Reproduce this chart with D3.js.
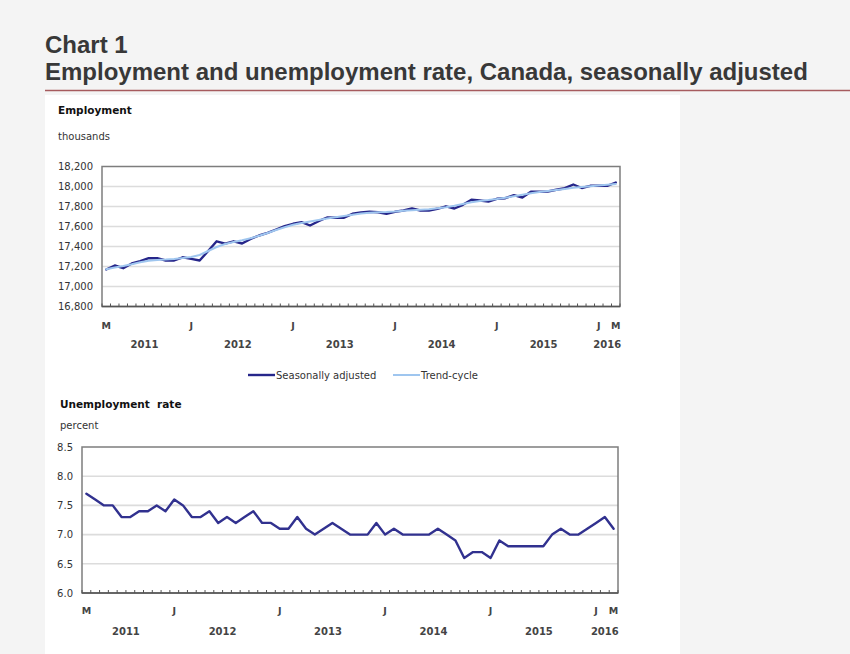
<!DOCTYPE html>
<html><head><meta charset="utf-8">
<script src="https://cdn.jsdelivr.net/npm/d3@7"></script>
<style>
html,body{margin:0;padding:0;background:#f4f4f4;}
svg{display:block;}
</style></head>
<body>
<svg id="c" width="850" height="654"></svg>
<script>
// ---- categories (months, March 2011 to March 2016) ----
const months = [
"2011-03","2011-04","2011-05","2011-06","2011-07","2011-08","2011-09","2011-10","2011-11","2011-12",
"2012-01","2012-02","2012-03","2012-04","2012-05","2012-06","2012-07","2012-08","2012-09","2012-10","2012-11","2012-12",
"2013-01","2013-02","2013-03","2013-04","2013-05","2013-06","2013-07","2013-08","2013-09","2013-10","2013-11","2013-12",
"2014-01","2014-02","2014-03","2014-04","2014-05","2014-06","2014-07","2014-08","2014-09","2014-10","2014-11","2014-12",
"2015-01","2015-02","2015-03","2015-04","2015-05","2015-06","2015-07","2015-08","2015-09","2015-10","2015-11","2015-12",
"2016-01","2016-02","2016-03"];

// ---- Employment, thousands ----
const employmentSA = [
17170,17210,17183,17230,17253,17283,17283,17260,17260,17292,
17276,17260,17355,17452,17428,17452,17430,17476,17510,17537,17570,17603,
17627,17643,17610,17653,17690,17687,17688,17727,17740,17747,17743,17727,
17747,17760,17780,17760,17760,17777,17802,17780,17817,17867,17860,17850,
17877,17883,17913,17890,17947,17947,17950,17967,17983,18020,17985,18007,
18007,18007,18040];
const employmentTrend = [
17172,17190,17205,17222,17242,17258,17266,17270,17276,17284,
17295,17315,17355,17395,17425,17445,17462,17482,17507,17535,17565,17593,
17617,17635,17650,17665,17680,17693,17705,17718,17730,17738,17742,17745,
17750,17757,17763,17768,17773,17782,17793,17808,17826,17843,17855,17864,
17875,17888,17902,17917,17932,17945,17955,17965,17976,17987,17995,18003,
18010,18018,18026];

// ---- Unemployment rate, percent ----
const unemploymentRate = [
7.7,7.6,7.5,7.5,7.3,7.3,7.4,7.4,7.5,7.4,
7.6,7.5,7.3,7.3,7.4,7.2,7.3,7.2,7.3,7.4,7.2,7.2,
7.1,7.1,7.3,7.1,7.0,7.1,7.2,7.1,7.0,7.0,7.0,7.2,
7.0,7.1,7.0,7.0,7.0,7.0,7.1,7.0,6.9,6.6,6.7,6.7,
6.6,6.9,6.8,6.8,6.8,6.8,6.8,7.0,7.1,7.0,7.0,7.1,
7.2,7.3,7.1];

// ---- tick labels ----
const empTicks = [16800,17000,17200,17400,17600,17800,18000,18200];
const rateTicks = [6.0,6.5,7.0,7.5,8.0,8.5];
const monthTickLabels = [
 {m:"2011-03",t:"M"},{m:"2012-01",t:"J"},{m:"2013-01",t:"J"},
 {m:"2014-01",t:"J"},{m:"2015-01",t:"J"},{m:"2016-01",t:"J"},{m:"2016-03",t:"M"}];
const yearLabels = ["2011","2012","2013","2014","2015","2016"];

const titleLine1 = "Chart 1";
const titleLine2 = "Employment and unemployment rate, Canada, seasonally adjusted";
const legendLabels = ["Seasonally adjusted","Trend-cycle"];

const COL_SA = "#26268a", COL_TREND = "#9fc6ef", COL_RATE = "#31318f";
const FONT = "'DejaVu Sans', Verdana, sans-serif";

const svg = d3.select("#c");

// background / panel
svg.append("rect").attr("x",0).attr("y",0).attr("width",850).attr("height",654).attr("fill","#f4f4f4");
svg.append("rect").attr("x",45).attr("y",95).attr("width",635).attr("height",559).attr("fill","#ffffff");

// titles
svg.append("text").attr("x",45).attr("y",53).text(titleLine1)
  .attr("font-family","'Liberation Sans', Arial, sans-serif").attr("font-weight","bold")
  .attr("font-size",24).attr("fill","#383838");
svg.append("text").attr("x",45).attr("y",80).text(titleLine2)
  .attr("font-family","'Liberation Sans', Arial, sans-serif").attr("font-weight","bold")
  .attr("font-size",24).attr("fill","#383838");
svg.append("line").attr("x1",45).attr("x2",850).attr("y1",90.5).attr("y2",90.5)
  .attr("stroke","#a65b5e").attr("stroke-width",1.5);

function panel(cfg){
  const g = svg.append("g");
  const x = d3.scaleBand().domain(months).range([cfg.left,cfg.right]).padding(0);
  const y = d3.scaleLinear().domain(cfg.domain).range([cfg.bottom,cfg.top]);
  const cx = m => x(m) + x.bandwidth()/2;

  // heading + unit
  g.append("text").attr("x",cfg.headX).attr("y",cfg.headY).text(cfg.heading)
    .attr("xml:space","preserve").style("white-space","pre")
    .attr("font-family",FONT).attr("font-weight","bold").attr("font-size",10.5).attr("fill","#111");
  g.append("text").attr("x",cfg.headX).attr("y",cfg.unitY).text(cfg.unit)
    .attr("font-family",FONT).attr("font-size",10).attr("fill","#333");

  // gridlines
  g.append("g").selectAll("line").data(cfg.ticks.slice(1,-1)).join("line")
    .attr("x1",cfg.left).attr("x2",cfg.right)
    .attr("y1",d=>y(d)).attr("y2",d=>y(d))
    .attr("stroke","#dcdcdc").attr("stroke-width",1.6);

  // y axis labels
  const ya = d3.axisLeft(y).tickValues(cfg.ticks).tickSize(0).tickPadding(9).tickFormat(cfg.fmt);
  const yg = g.append("g").attr("transform",`translate(${cfg.left},0)`).call(ya);
  yg.select(".domain").remove();
  yg.selectAll("text").attr("font-family",FONT).attr("font-size",10).attr("fill","#333");

  // frame
  g.append("rect").attr("x",cfg.left).attr("y",cfg.top)
    .attr("width",cfg.right-cfg.left).attr("height",cfg.bottom-cfg.top)
    .attr("fill","none").attr("stroke","#7d7d7d").attr("stroke-width",1.5);

  // bottom axis with small inward month ticks
  const bounds = months.map(m=>x(m)).concat([cfg.right]);
  g.append("g").selectAll("line").data(bounds).join("line")
    .attr("x1",d=>d).attr("x2",d=>d).attr("y1",cfg.bottom-3).attr("y2",cfg.bottom)
    .attr("stroke","#555").attr("stroke-width",1);
  g.append("line").attr("x1",cfg.left).attr("x2",cfg.right).attr("y1",cfg.bottom).attr("y2",cfg.bottom)
    .attr("stroke","#555").attr("stroke-width",1.6);

  // month labels
  g.append("g").selectAll("text").data(monthTickLabels).join("text")
    .attr("x",d=>cx(d.m)).attr("y",cfg.bottom+cfg.mOff).attr("text-anchor","middle")
    .text(d=>d.t).attr("font-family",FONT).attr("font-size",9.5).attr("font-weight","bold").attr("fill","#444");
  // year labels centred over their months
  g.append("g").selectAll("text").data(yearLabels).join("text")
    .attr("x",yr=>{
      const ms = months.filter(m=>m.startsWith(yr));
      return (x(ms[0]) + x(ms[ms.length-1]) + x.bandwidth())/2;
    })
    .attr("y",cfg.bottom+cfg.yOff).attr("text-anchor","middle")
    .text(d=>d).attr("font-family",FONT).attr("font-size",10).attr("font-weight","bold").attr("fill","#444");

  cfg.series.forEach(s=>{
    const line = d3.line().x((d,i)=>cx(months[i])).y(d=>y(d));
    g.append("path").datum(s.values).attr("d",line).attr("fill","none")
      .attr("stroke",s.color).attr("stroke-width",s.width)
      .attr("stroke-linejoin","round").attr("stroke-linecap","round");
  });
  return {x,y};
}

panel({left:102,right:620,top:166.5,bottom:306.5,domain:[16800,18200],ticks:empTicks,
  fmt:d3.format(","),heading:"Employment",unit:"thousands",headX:58,headY:114,unitY:140,
  mOff:22,yOff:41,
  series:[{values:employmentSA,color:COL_SA,width:2.4},{values:employmentTrend,color:COL_TREND,width:2}]});

panel({left:82,right:618,top:447,bottom:593,domain:[6.0,8.5],ticks:rateTicks,
  fmt:d3.format(".1f"),heading:"Unemployment  rate",unit:"percent",headX:60,headY:408,unitY:429,
  mOff:21,yOff:42,
  series:[{values:unemploymentRate,color:COL_RATE,width:2.4}]});

// legend
const lg = svg.append("g").attr("font-family",FONT).attr("font-size",10).attr("fill","#333");
const legendItems = [{label:legendLabels[0],color:COL_SA,x:248,w:2.4},{label:legendLabels[1],color:COL_TREND,x:393,w:2}];
legendItems.forEach(it=>{
  lg.append("line").attr("x1",it.x).attr("x2",it.x+27).attr("y1",375).attr("y2",375)
    .attr("stroke",it.color).attr("stroke-width",it.w);
  lg.append("text").attr("x",it.x+28).attr("y",378.5).text(it.label);
});
</script>
</body></html>
